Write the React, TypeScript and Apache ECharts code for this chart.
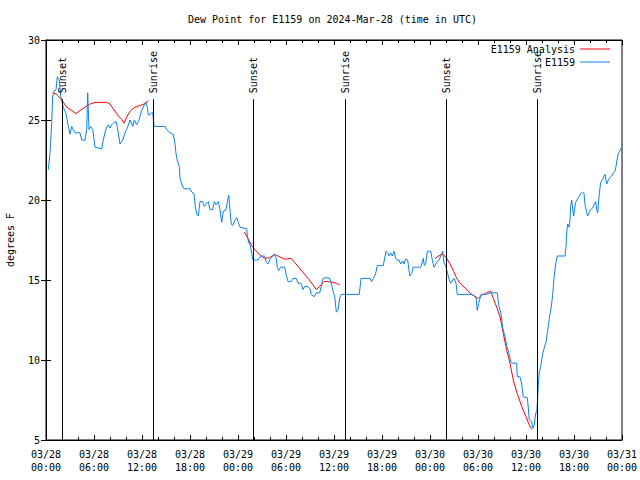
import React, { useEffect, useRef } from "react";
import * as echarts from "echarts";

const titleText = "Dew Point for E1159 on 2024-Mar-28 (time in UTC)";
const yAxisTitle = "degrees F";

const xTickLabels = [
  "03/28\n00:00", "03/28\n06:00", "03/28\n12:00", "03/28\n18:00",
  "03/29\n00:00", "03/29\n06:00", "03/29\n12:00", "03/29\n18:00",
  "03/30\n00:00", "03/30\n06:00", "03/30\n12:00", "03/30\n18:00",
  "03/31\n00:00",
];

// hours since 03/28 00:00 UTC
const eventHours = [2.04, 13.4, 25.88, 37.35, 49.95, 61.32];
const eventNames = ["Sunset", "Sunrise", "Sunset", "Sunrise", "Sunset", "Sunrise"];
const eventTop = 26.3;

const obsHours = [
  0.29, 0.5, 0.71, 0.84, 1.0, 1.25, 1.41, 1.66, 1.84, 2.16, 2.5, 2.79, 3.0, 3.21, 3.41, 3.63,
  4.25, 4.46, 4.88, 5.09, 5.21, 5.38, 5.59, 5.84, 6.13, 6.96, 7.16, 7.46, 7.79, 8.0, 8.21, 8.41,
  8.75, 8.91, 9.25, 9.59, 9.88, 10.16, 10.5, 10.84, 11.04, 11.34, 11.63, 11.96, 12.25, 12.5, 12.66,
  12.79, 13.09, 13.34, 13.5, 14.88, 15.09, 15.5, 15.91, 16.13, 16.25, 16.41, 16.66, 16.75, 16.96,
  17.25, 18.0, 18.21, 18.5, 18.66, 18.84, 19.04, 19.25, 19.59, 19.79, 20.09, 20.29, 20.5, 20.84,
  21.04, 21.25, 21.54, 21.75, 21.96, 22.16, 22.5, 22.71, 22.84, 23.0, 23.16, 23.34, 23.63, 23.84,
  24.04, 24.25, 25.09, 25.16, 25.34, 25.5, 25.59, 25.71, 25.84, 26.5, 26.84, 27.34, 27.54, 27.75,
  27.96, 28.16, 28.5, 28.79, 28.91, 29.09, 29.34, 29.84, 30.04, 30.25, 30.66, 30.88, 31.29, 31.5,
  31.84, 32.0, 32.13, 32.34, 32.66, 32.96, 33.16, 33.5, 33.79, 34.21, 34.41, 34.63, 35.04, 35.46,
  35.66, 35.88, 36.09, 36.29, 36.5, 36.71, 36.91, 39.16, 39.38, 40.5, 40.71, 40.91, 41.13, 41.25,
  41.41, 42.16, 42.29, 42.5, 42.71, 42.91, 43.09, 43.29, 43.5, 43.71, 43.91, 44.13, 44.34, 44.59,
  44.75, 44.96, 45.21, 45.38, 45.5, 45.71, 45.91, 46.84, 46.96, 47.16, 47.29, 47.46, 47.66, 48.09,
  48.29, 48.5, 48.84, 49.13, 49.34, 49.59, 49.75, 50.0, 50.16, 50.41, 50.63, 50.84, 51.0, 51.25,
  51.41, 53.21, 53.41, 53.75, 53.91, 54.09, 54.25, 54.41, 55.09, 55.5, 56.41, 56.59, 56.84, 57.09,
  57.38, 57.59, 57.79, 58.09, 58.34, 58.84, 58.91, 59.25, 59.46, 59.66, 60.16, 60.29, 60.41, 60.71,
  60.84, 61.04, 61.21, 61.34, 61.41, 61.54, 61.66, 61.84, 61.96, 62.09, 62.25, 62.5, 62.66, 62.79,
  62.91, 63.09, 63.21, 63.34, 63.5, 63.63, 63.75, 63.91, 64.88, 65.0, 65.09, 65.21, 65.38, 65.5,
  65.59, 65.71, 65.84, 65.96, 66.09, 66.21, 66.41, 66.63, 66.84, 67.09, 67.25, 67.38, 67.59, 67.71,
  67.88, 68.09, 68.34, 68.54, 68.71, 68.84, 68.96, 69.04, 69.16, 69.34, 69.59, 69.75, 69.88, 70.09,
  70.29, 70.5, 70.71, 70.91, 71.13, 71.25, 71.38, 71.54, 71.75, 71.94,
];
const obsValues = [
  21.9, 22.9, 24.8, 26.5, 26.8, 26.9, 27.7, 27.5, 26.5, 25.8, 25.4, 24.6, 24.1, 24.6, 24.4, 24.2,
  24.2, 23.75, 23.75, 24.4, 26.7, 24.4, 24.6, 24.4, 23.3, 23.2, 23.75, 24.4, 24.7, 24.5, 24.7, 24.8,
  24.9, 24.6, 23.5, 23.75, 24.2, 24.5, 25.0, 24.6, 25.0, 24.7, 25.0, 25.6, 25.9, 26.1, 25.8,
  25.3, 25.4, 25.5, 24.6, 24.6, 24.4, 24.2, 24.1, 23.5, 22.9, 22.5, 22.1, 21.35, 21.0,
  20.7, 20.7, 20.5, 20.4, 19.6, 19.1, 19.0, 19.9, 19.9, 19.6, 19.8, 19.9, 19.4, 19.4,
  19.9, 19.7, 19.9, 19.4, 18.6, 19.3, 19.4, 20.0, 20.3, 19.4, 18.5, 18.4, 18.75, 18.9,
  18.6, 18.3, 18.2, 17.8, 17.3, 17.25, 17.0, 16.7, 16.25, 16.25, 16.5, 16.5, 16.1, 16.0,
  16.25, 16.4, 16.6, 16.35, 15.8, 15.6, 15.8, 15.8, 15.3, 14.9, 14.9, 15.1, 15.1, 14.8,
  14.8, 14.6, 14.4, 14.6, 14.6, 14.5, 14.1, 13.95, 14.2, 14.2, 14.6, 15.1, 15.15, 15.1,
  14.8, 14.3, 13.95, 13.0, 13.1, 13.85, 14.1, 14.1, 15.1, 15.1, 14.9, 15.1, 15.3, 15.5,
  15.9, 15.9, 16.25, 16.8, 16.7, 16.5, 16.7, 16.5, 16.8, 16.35, 16.25, 16.25, 16.0, 16.2,
  16.0, 16.3, 16.25, 15.6, 15.25, 15.4, 15.8, 15.8, 16.0, 16.35, 15.9, 16.0, 16.8, 16.8,
  16.25, 15.8, 16.1, 16.25, 16.5, 16.8, 16.1, 15.8, 15.5, 15.0, 14.8, 15.0, 15.1, 14.8,
  14.1, 14.1, 14.05, 13.95, 13.1, 13.55, 13.85, 14.1, 14.1, 14.2, 14.2, 13.4, 13.0, 12.0,
  11.45, 10.9, 10.6, 9.9, 9.8, 9.8, 8.95, 8.95, 8.5, 7.7, 7.65, 7.0, 6.25, 6.15,
  5.73, 5.94, 6.7, 6.7, 7.2, 8.44, 9.2, 9.6, 10.0, 10.4, 10.7, 11.1, 11.67, 12.1,
  12.6, 13.1, 13.55, 14.1, 15.1, 15.7, 16.1, 16.5, 16.5, 17.1, 18.0, 18.5, 18.3, 18.75,
  19.6, 20.0, 19.4, 19.0, 19.5, 19.85, 20.04, 20.2, 20.4, 20.5, 20.4, 19.7, 19.2, 19.0,
  19.2, 19.4, 19.5, 19.75, 19.9, 19.4, 19.2, 19.7, 20.4, 21.1, 21.3, 21.5, 21.6, 21.0,
  21.25, 21.4, 21.5, 21.7, 21.8, 22.1, 22.5, 22.9, 23.1, 23.25,
];

// null separates the three analysis segments
const anaHours = [
  0.84, 1.34, 1.96, 2.59, 3.21, 3.75, 4.25, 4.88, 5.5, 6.13, 7.59, 8.0, 8.41, 9.04, 9.46, 9.75,
  10.16, 10.59, 11.13, 11.75, 12.25, 12.79, 18.0,
  24.79, 25.25, 25.66, 26.09, 26.5, 26.91, 27.34, 27.96, 28.59, 29.0, 29.41, 29.84, 30.66, 31.09,
  31.91, 32.75, 33.38, 33.79, 34.21, 34.75, 35.25, 35.88, 36.29, 36.71, 42.0,
  48.63, 49.25, 49.66, 50.09, 50.5, 50.91, 51.34, 51.75, 52.38, 53.0, 53.63, 54.04, 54.46, 55.09,
  55.59, 55.91, 56.34, 56.75, 57.16, 57.59, 58.0, 58.41, 58.91, 59.46, 60.0, 60.41, 60.71,
];
const anaValues = [
  26.7, 26.6, 26.25, 25.8, 25.6, 25.4, 25.6, 25.8, 26.0, 26.1, 26.1, 26.0, 25.7, 25.25, 25.04, 24.8,
  25.25, 25.6, 25.8, 25.9, 26.0, 26.2, null,
  18.0, 17.6, 17.2, 16.9, 16.7, 16.5, 16.35, 16.4, 16.6, 16.5, 16.4, 16.3, 16.35, 16.1,
  15.6, 15.1, 14.7, 14.4, 14.6, 14.9, 14.9, 14.85, 14.8, 14.7, null,
  16.35, 16.56, 16.6, 16.35, 16.0, 15.6, 15.1, 14.8, 14.5, 14.2, 13.95, 13.85, 14.06, 14.2,
  14.3, 13.85, 13.3, 12.7, 11.67, 10.6, 9.8, 8.75, 7.9, 7.1, 6.46, 5.94, 5.67,
];

const FONT = "DejaVu Sans Mono";
const RED = "#ff0000";
const BLUE = "#0a80f0";

export default function App() {
  const ref = useRef<HTMLDivElement>(null);
  useEffect(() => {
    if (!ref.current) return;
    const chart = echarts.init(ref.current, undefined, { renderer: "svg" });
    const tickStyle = { show: true, inside: true, length: 5, lineStyle: { color: "#000", width: 1 } };
    const minorStyle = { show: true, splitNumber: 3, length: 3, lineStyle: { color: "#000", width: 1 } };
    const xBase: any = {
      type: "value",
      min: 0,
      max: 72,
      interval: 6,
      splitLine: { show: false },
      minorSplitLine: { show: false },
      axisLine: { show: true, lineStyle: { color: "#000", width: 1 } },
      axisTick: tickStyle,
      minorTick: minorStyle,
    };
    const yBase: any = {
      type: "value",
      min: 5,
      max: 30,
      interval: 5,
      splitLine: { show: false },
      axisLine: { show: true, lineStyle: { color: "#000", width: 1 } },
      axisTick: tickStyle,
    };
    chart.setOption({
      animation: false,
      backgroundColor: "#fff",
      title: {
        text: titleText,
        left: 188,
        top: 14,
        padding: 0,
        textStyle: { fontFamily: FONT, fontSize: 10, fontWeight: "normal", color: "#000" },
      },
      legend: {
        data: [
          { name: "E1159 Analysis", icon: "rect", itemStyle: { color: RED } },
          { name: "E1159", icon: "rect", itemStyle: { color: BLUE } },
        ],
        orient: "vertical",
        align: "right",
        right: 30,
        top: 44,
        padding: 0,
        itemWidth: 30,
        itemHeight: 1,
        itemGap: 3,
        textStyle: { fontFamily: FONT, fontSize: 10, color: "#000" },
      },
      grid: {
        left: 46,
        right: 18,
        top: 40,
        bottom: 40,
        show: true,
        borderColor: "#000",
        borderWidth: 1,
        containLabel: false,
        outerBoundsMode: "none",
      },
      xAxis: [
        {
          ...xBase,
          position: "bottom",
          axisLabel: {
            margin: 8,
            fontFamily: FONT,
            fontSize: 10,
            lineHeight: 13,
            color: "#000",
            formatter: (v: number) => xTickLabels[Math.round(v / 6)] ?? "",
          },
        },
        { ...xBase, position: "top", axisLabel: { show: false } },
      ],
      yAxis: [
        {
          ...yBase,
          position: "left",
          name: yAxisTitle,
          nameLocation: "middle",
          nameGap: 31,
          nameRotate: 90,
          nameTextStyle: { fontFamily: FONT, fontSize: 10, color: "#000" },
          axisLabel: { margin: 6, fontFamily: FONT, fontSize: 10, color: "#000" },
        },
        { ...yBase, position: "right", axisLabel: { show: false } },
      ],
      series: [
        {
          name: "E1159 Analysis",
          type: "line",
          symbol: "none",
          connectNulls: false,
          lineStyle: { color: RED, width: 1 },
          itemStyle: { color: RED },
          data: anaHours.map((h, i) => [h, anaValues[i] === null ? "-" : anaValues[i]]),
          z: 2,
        },
        {
          name: "E1159",
          type: "line",
          symbol: "none",
          lineStyle: { color: BLUE, width: 1 },
          itemStyle: { color: BLUE },
          data: obsHours.map((h, i) => [h, obsValues[i]]),
          z: 3,
        },
        {
          name: "events",
          type: "custom",
          silent: true,
          z: 4,
          data: eventHours.map((h, i) => [h, i]),
          renderItem: (params: any, api: any) => {
            const h = api.value(0);
            const idx = api.value(1);
            const p0 = api.coord([h, 5]);
            const p1 = api.coord([h, eventTop]);
            const x = Math.round(p0[0]) + 0.5;
            return {
              type: "group",
              children: [
                {
                  type: "line",
                  shape: { x1: x, y1: p0[1], x2: x, y2: p1[1] },
                  style: { stroke: "#000", lineWidth: 1 },
                },
                {
                  type: "text",
                  x: x,
                  y: p1[1] - 6,
                  rotation: Math.PI / 2,
                  style: {
                    text: eventNames[idx],
                    fontFamily: FONT,
                    fontSize: 10,
                    fill: "#000",
                    align: "left",
                    verticalAlign: "middle",
                  },
                },
              ],
            };
          },
        },
      ],
    });
    return () => chart.dispose();
  }, []);
  return (
    <div
      ref={ref}
      style={{ position: "absolute", left: 0, top: 0, width: 640, height: 480 }}
    />
  );
}
